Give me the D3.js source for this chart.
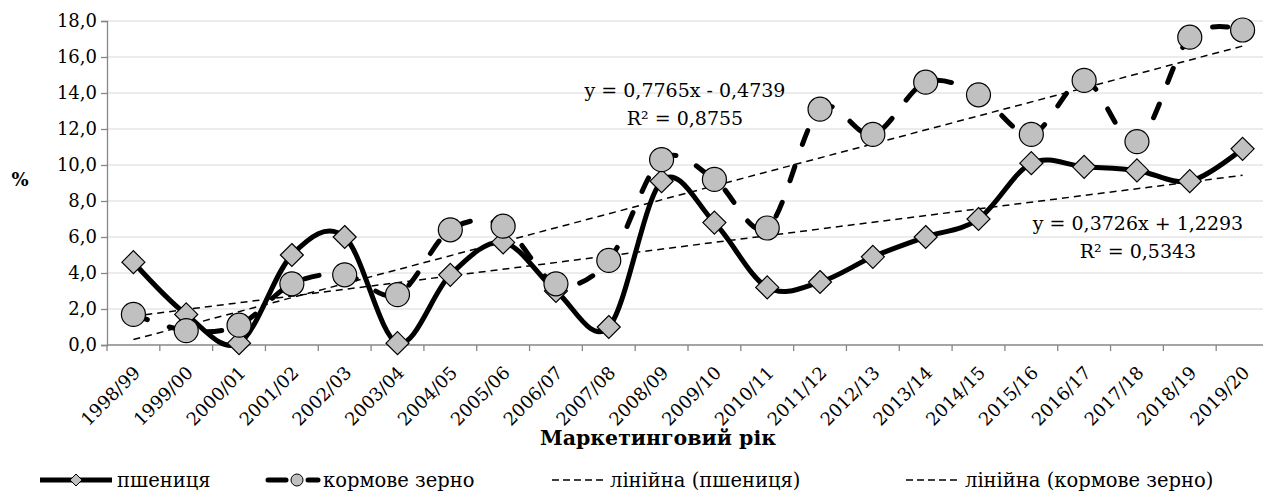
<!DOCTYPE html>
<html>
<head>
<meta charset="utf-8">
<script src="https://cdn.jsdelivr.net/npm/d3@7"></script>
<style>
  body { margin: 0; background: #fff; }
  svg text { font-family: "DejaVu Serif", serif; fill: #000; }
</style>
</head>
<body>
<div id="chart"></div>
<script>
const years = ["1998/99","1999/00","2000/01","2001/02","2002/03","2003/04","2004/05","2005/06",
  "2006/07","2007/08","2008/09","2009/10","2010/11","2011/12","2012/13","2013/14","2014/15",
  "2015/16","2016/17","2017/18","2018/19","2019/20"]
const wheat = [4.6,1.7,0.1,5.0,6.0,0.1,3.9,5.7,3.0,1.0,9.1,6.8,3.2,3.5,4.9,6.0,7.0,10.1,9.9,9.7,9.1,10.9]
const feed = [1.7,0.8,1.1,3.4,3.9,2.8,6.4,6.6,3.4,4.7,10.3,9.2,6.5,13.1,11.7,14.6,13.9,11.7,14.7,11.3,17.1,17.5]
// trend coefficients as printed on the chart [slope, intercept, R2]
const wheatTrend = [0.3726, 1.2293, 0.5343]
const feedTrend = [0.7765, -0.4739, 0.8755]
const yTicks = [0,2,4,6,8,10,12,14,16,18]
const legendLabels = ["пшениця","кормове зерно","лінійна (пшениця)","лінійна (кормове зерно)"]

const W = 1263, H = 497
const MARGIN = { TOP: 21, LEFT: 107, BOTTOM: 152, RIGHT: -6 }
const PW = W - MARGIN.LEFT - MARGIN.RIGHT
const PH = H - MARGIN.TOP - MARGIN.BOTTOM

const svg = d3.select("#chart").append("svg")
  .attr("width", W).attr("height", H)
const g = svg.append("g").attr("transform", `translate(${MARGIN.LEFT},${MARGIN.TOP})`)

const x = d3.scaleBand().domain(years).range([0, PW])
const cx = d => x(d) + x.bandwidth() / 2
const y = d3.scaleLinear().domain([0, 18]).range([PH, 0])
const fmt = v => d3.format(".1f")(v).replace(".", ",")

// grid
g.append("g").selectAll("line").data(yTicks.slice(1)).join("line")
  .attr("x1", 0).attr("x2", PW)
  .attr("y1", d => y(d)).attr("y2", d => y(d))
  .attr("stroke", "#d9d9d9").attr("stroke-width", 1)

// y axis
const yAxis = g.append("g").call(d3.axisLeft(y).tickValues(yTicks).tickFormat(fmt).tickSize(6))
yAxis.select(".domain").attr("stroke", "#868686").attr("stroke-width", 1.3)
yAxis.selectAll(".tick line").attr("stroke", "#868686").attr("stroke-width", 1.3)
yAxis.selectAll("text").attr("font-size", 18).attr("x", -10)

// x axis
const xAxis = g.append("g").attr("transform", `translate(0,${PH})`)
xAxis.append("line").attr("x1", 0).attr("x2", PW).attr("stroke", "#868686").attr("stroke-width", 1.3)
xAxis.selectAll(".tk").data(years.concat(["end"])).join("line")
  .attr("x1", (d, i) => i * x.bandwidth()).attr("x2", (d, i) => i * x.bandwidth())
  .attr("y1", 0).attr("y2", 6)
  .attr("stroke", "#868686").attr("stroke-width", 1.3)
xAxis.selectAll("text").data(years).join("text")
  .attr("transform", d => `translate(${cx(d) - 1},${20}) rotate(-45)`)
  .attr("text-anchor", "end")
  .attr("dy", "0.7em")
  .attr("font-size", 18)
  .text(d => d)

// trend lines
const trendLine = coef => [1, years.length].map(n => [cx(years[n - 1]), y(coef[0] * n + coef[1])])
;[wheatTrend, feedTrend].forEach(c => {
  g.append("path").attr("d", d3.line()(trendLine(c)))
    .attr("fill", "none").attr("stroke", "#000").attr("stroke-width", 1.5)
    .attr("stroke-dasharray", "7,5")
})

const line = d3.line().x((d, i) => cx(years[i])).y(d => y(d)).curve(d3.curveCardinal)

// feed grain
g.append("path").attr("d", line(feed))
  .attr("fill", "none").attr("stroke", "#000").attr("stroke-width", 5)
  .attr("stroke-linecap", "round").attr("stroke-dasharray", "15,23")
// wheat
g.append("path").attr("d", line(wheat))
  .attr("fill", "none").attr("stroke", "#000").attr("stroke-width", 5)

g.append("g").selectAll("path").data(wheat).join("path")
  .attr("d", "M0,-11.5L11.5,0L0,11.5L-11.5,0Z")
  .attr("transform", (d, i) => `translate(${cx(years[i])},${y(d)})`)
  .attr("fill", "#c0c0c0").attr("stroke", "#000").attr("stroke-width", 1.2)

g.append("g").selectAll("circle").data(feed).join("circle")
  .attr("cx", (d, i) => cx(years[i])).attr("cy", d => y(d)).attr("r", 12)
  .attr("fill", "#c0c0c0").attr("stroke", "#000").attr("stroke-width", 1.2)

// trend equations
const eq = (c) => `y = ${String(c[0]).replace(".", ",")}x ${c[1] < 0 ? "-" : "+"} ${String(Math.abs(c[1])).replace(".", ",")}`
const r2 = (c) => `R² = ${String(c[2]).replace(".", ",")}`
const labels = [
  { c: feedTrend, x: 685, y: 90 },
  { c: wheatTrend, x: 1138, y: 223 }
]
labels.forEach(l => {
  svg.append("text").attr("x", l.x).attr("y", l.y).attr("dy", "0.35em")
    .attr("text-anchor", "middle").attr("font-size", 19).text(eq(l.c))
  svg.append("text").attr("x", l.x).attr("y", l.y + 28).attr("dy", "0.35em")
    .attr("text-anchor", "middle").attr("font-size", 19).text(r2(l.c))
})

// axis titles
svg.append("text").attr("x", 20).attr("y", 180).attr("dy", "0.35em")
  .attr("text-anchor", "middle").attr("font-size", 18).attr("font-weight", "bold").text("%")
svg.append("text").attr("x", 658).attr("y", 438).attr("dy", "0.35em")
  .attr("text-anchor", "middle").attr("font-size", 20.5).attr("font-weight", "bold").text("Маркетинговий рік")

// legend
const ly = 480
const lg = svg.append("g")
lg.append("line").attr("x1", 40).attr("x2", 112).attr("y1", ly).attr("y2", ly)
  .attr("stroke", "#000").attr("stroke-width", 5)
lg.append("path").attr("d", "M0,-6L6,0L0,6L-6,0Z").attr("transform", `translate(76,${ly})`)
  .attr("fill", "#c0c0c0").attr("stroke", "#000").attr("stroke-width", 1)
lg.append("line").attr("x1", 268).attr("x2", 286).attr("y1", ly).attr("y2", ly)
  .attr("stroke", "#000").attr("stroke-width", 5).attr("stroke-linecap", "round")
lg.append("line").attr("x1", 308).attr("x2", 318).attr("y1", ly).attr("y2", ly)
  .attr("stroke", "#000").attr("stroke-width", 5).attr("stroke-linecap", "round")
lg.append("circle").attr("cx", 297).attr("cy", ly).attr("r", 6)
  .attr("fill", "#c0c0c0").attr("stroke", "#000").attr("stroke-width", 1)
;[552, 906].forEach(x0 => {
  lg.append("line").attr("x1", x0).attr("x2", x0 + 52).attr("y1", ly).attr("y2", ly)
    .attr("stroke", "#000").attr("stroke-width", 1.5).attr("stroke-dasharray", "7,4")
})
const lx = [117, 323, 610, 965]
lg.selectAll("text").data(legendLabels).join("text")
  .attr("x", (d, i) => lx[i]).attr("y", ly).attr("dy", "0.35em")
  .attr("font-size", 19.5).text(d => d)
</script>
</body>
</html>
